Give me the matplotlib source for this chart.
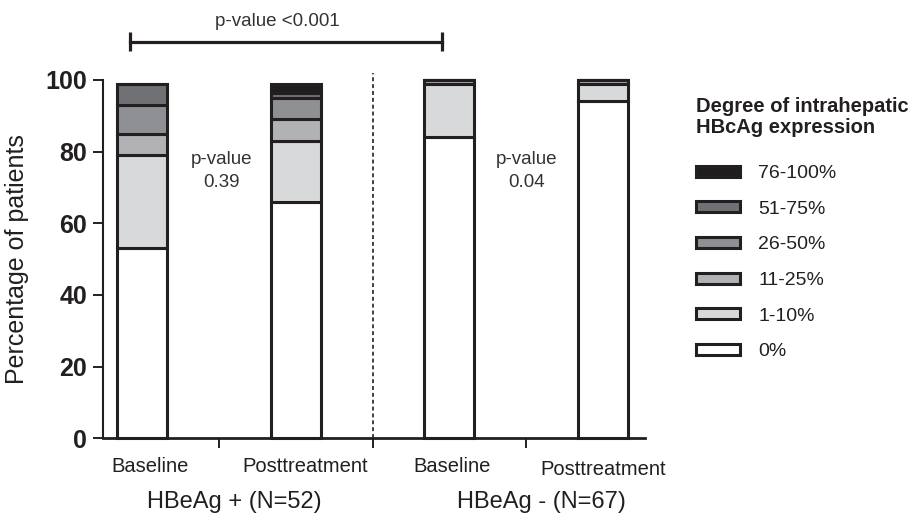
import matplotlib
matplotlib.use("Agg")
import matplotlib.pyplot as plt
import numpy as np

plt.rcParams['font.family'] = ['Liberation Sans', 'DejaVu Sans']

# stacked percentages per bar, bottom category first
grades = ['0%', '1-10%', '11-25%', '26-50%', '51-75%', '76-100%']
colors = ['#ffffff', '#d8d9db', '#b1b2b5', '#8f9093', '#707174', '#1f1d1e']
bar_names = ['Baseline', 'Posttreatment', 'Baseline', 'Posttreatment']
groups = ['HBeAg + (N=52)', 'HBeAg - (N=67)']

pos_base = [53, 26, 6, 8, 6, 0]
pos_post = [66, 17, 6, 6, 1.5, 2.5]
neg_base = [84, 15, 1, 0, 0, 0]
neg_post = [94, 5, 1, 0, 0, 0]
pvals_within = ['p-value\n0.39', 'p-value\n0.04']
pval_between = 'p-value <0.001'

data = np.array([pos_base, pos_post, neg_base, neg_post])
x = np.arange(len(bar_names))
edge = '#231f20'

fig = plt.figure(figsize=(9.19, 5.15), dpi=100)
ax = fig.add_axes([0.1116, 0.149, 0.59, 0.6957])

bottom = np.zeros(len(x))
bars = []
for i, g in enumerate(grades):
    b = ax.bar(x, data[:, i], 0.325, bottom=bottom, color=colors[i],
               edgecolor=edge, linewidth=2.2, label=g, clip_on=False, zorder=3)
    bars.append(b)
    bottom += data[:, i]

ax.set_xlim(-0.256, 3.27)
ax.set_ylim(0, 100)
ax.set_yticks(range(0, 101, 20))
ax.tick_params(axis='y', length=7, width=1.4, pad=4, labelsize=18, colors=edge)
for lab in ax.get_yticklabels():
    lab.set_fontweight('bold')
ax.set_xticks([0.5, 1.5, 2.5])
ax.set_xticklabels([])
ax.tick_params(axis='x', length=7, width=1.4, colors=edge)
for s in ['top', 'right']:
    ax.spines[s].set_visible(False)
ax.spines['left'].set_linewidth(1.5)
ax.spines['bottom'].set_linewidth(2)
ax.spines['left'].set_color(edge)
ax.spines['bottom'].set_color(edge)
ax.set_ylabel('Percentage of patients', fontsize=18, color='#231f20', labelpad=12)

# divider between the two patient groups
ax.plot([1.5, 1.5], [0, 102], ls=(0, (2.2, 1.6)), lw=1.3, color='#333333',
        clip_on=False, zorder=2)

# bar and group labels under the axis
label_off = [0.05, 0.06, 0.02, 0.0]
for xi, name, off in zip(x, bar_names, label_off):
    ax.text(xi + off, -8.0 - (0.6 if xi == 3 else 0), name, ha='center', va='center',
            fontsize=14.5, color='#231f20', clip_on=False)
for gi, g in enumerate(groups):
    ax.text(0.6 + 2 * gi, -17.8, g, ha='center', va='center', fontsize=17,
            color='#231f20', clip_on=False)

# p-values
for gi, p in enumerate(pvals_within):
    ax.text(0.52 + 1.98 * gi, 74.5, p, ha='center', va='center', fontsize=13.5,
            color='#333333', linespacing=1.45)
ax.plot([-0.078, 1.95], [110.6, 110.6], color=edge, lw=2.3, clip_on=False)
for xe in [-0.078, 1.95]:
    ax.plot([xe, xe], [108, 113.3], color=edge, lw=2.3, clip_on=False,
            solid_capstyle='butt')
ax.text(0.88, 116.3, pval_between, ha='center', va='center', fontsize=13.5,
        color='#333333', clip_on=False)

# legend, darkest grade first
fig.text(696 / 919, 1 - 117 / 515, 'Degree of intrahepatic\nHBcAg expression',
         ha='left', va='center', fontsize=14.5, fontweight='bold',
         color='#231f20', linespacing=1.1)
leg = ax.legend(handles=bars[::-1], labels=grades[::-1], loc='upper left',
                bbox_to_anchor=(696 / 919, 1 - 165 / 515),
                bbox_transform=fig.transFigure, frameon=False, fontsize=14,
                handlelength=2.25, handleheight=0.5, handletextpad=0.95,
                labelspacing=0.96, borderpad=0, borderaxespad=0)
for t in leg.get_texts():
    t.set_color('#231f20')

fig.savefig('out.png', dpi=100)
